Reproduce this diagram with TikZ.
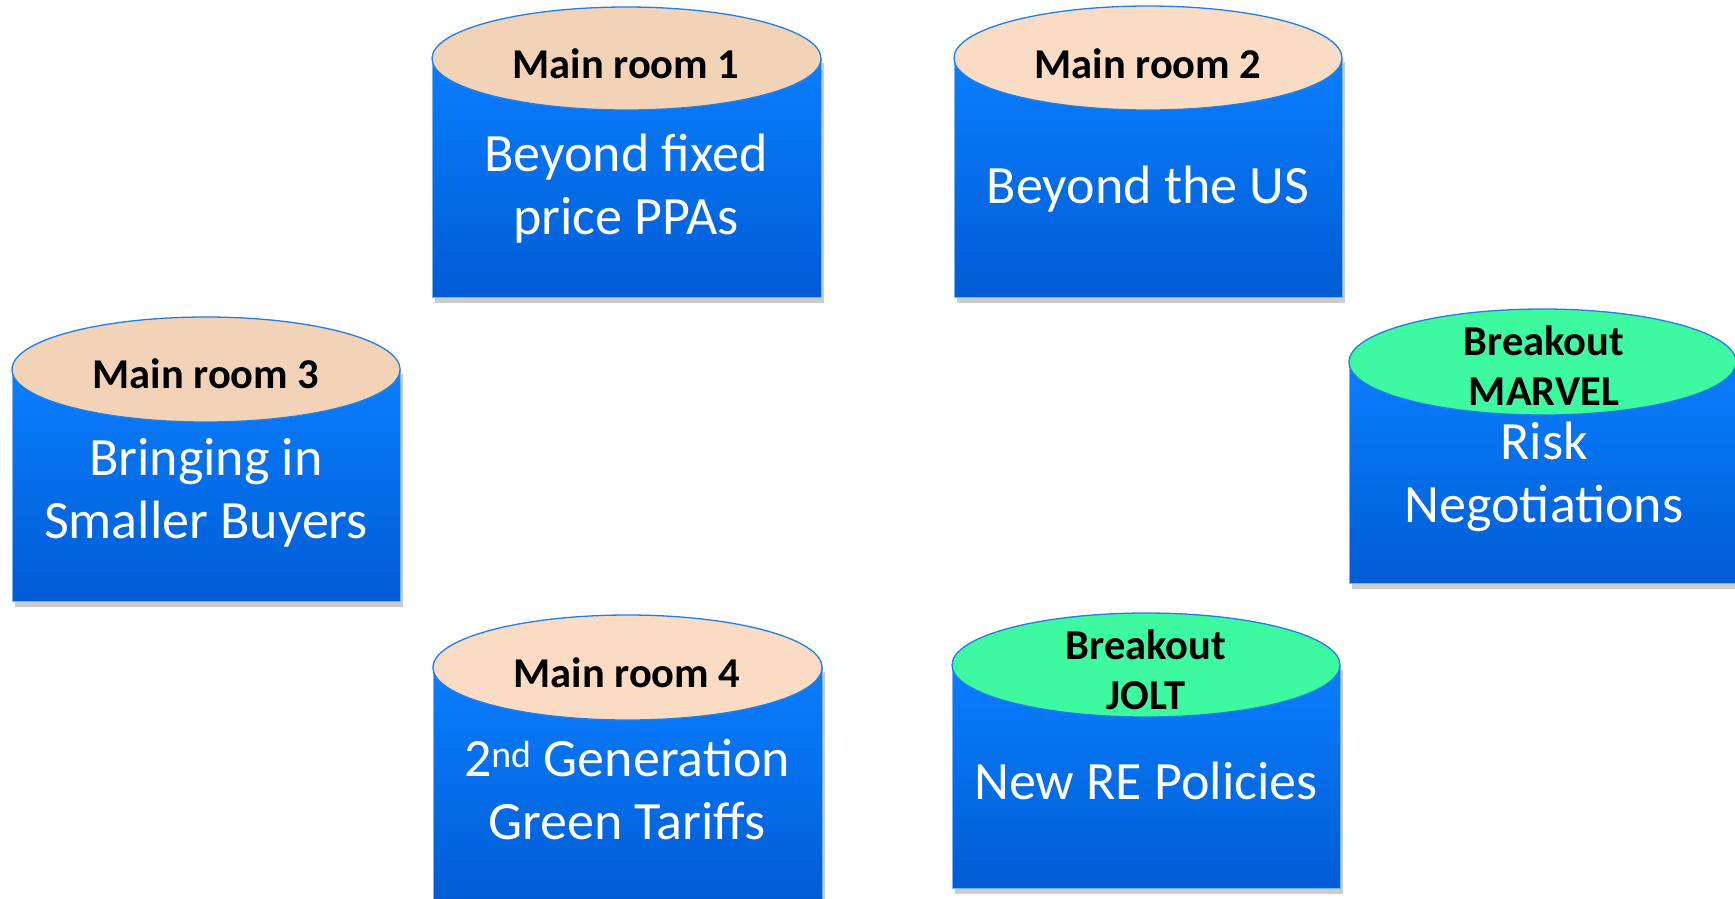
\documentclass[tikz,border=0pt]{standalone}
\usepackage{fontspec}
\setmainfont{Carlito}
\definecolor{peachA}{HTML}{F3D3B7}
\definecolor{peachB}{HTML}{F9DCC3}
\definecolor{mint}{HTML}{3DF9A0}
\definecolor{bodytop}{HTML}{0A7EFF}
\definecolor{bodybot}{HTML}{005CD4}
\definecolor{rim}{HTML}{1E7FE8}
\tikzset{
  body/.style={top color=bodytop, bottom color=bodybot, draw=rim!60!white, line width=1pt},
  lid/.style={draw=rim, line width=1.3pt},
  shadowbox/.style={fill=black, opacity=0.2},
  title/.style={font=\bfseries\fontsize{42.5}{50}\selectfont, align=center, inner sep=0pt, text=black},
  caption/.style={font=\fontsize{54}{63}\selectfont, align=center, inner sep=0pt, text=white},
}
% #1 left, #2 right, #3 lid top, #4 lid bottom, #5 body bottom, #6 lid fill
\newcommand\roomcyl[6]{%
  \fill[shadowbox] (#1+3,{(#3+#4)/2+4}) rectangle (#2+3,#5+6);
  \shade[body] (#1,{(#3+#4)/2}) rectangle (#2,#5);
  \filldraw[lid, fill=#6] ({(#1+#2)/2},{(#3+#4)/2}) ellipse [x radius={(#2-#1)/2*1pt}, y radius={(#4-#3)/2*1pt}];
}
\begin{document}
\begin{tikzpicture}[x=1pt,y=-1pt]
\useasboundingbox (0,0) rectangle (1735,898);
\roomcyl{432}{821}{7}{110}{297}{peachA}
\roomcyl{954}{1342}{6}{110}{297}{peachB}
\roomcyl{12}{400}{317}{422}{601}{peachA}
\roomcyl{1349}{1736}{309}{415}{583}{mint}
\roomcyl{433}{822}{615}{720}{905}{peachB}
\roomcyl{952}{1340}{613}{717}{888}{mint}

\node[title]   (t1) at (626,64)  {Main room 1};
\node[caption] (b1) at (626,189) {Beyond fixed\\price PPAs};
\node[title]   (t2) at (1148,64) {Main room 2};
\node[caption] (b2) at (1148,189) {Beyond the US};
\node[title]   (t3) at (206,374) {Main room 3};
\node[caption] (b3) at (206,493) {Bringing in\\Smaller Buyers};
\node[title]   (t5) at (1544,366) {Breakout\\MARVEL};
\node[caption] (b5) at (1544,477) {Risk\\Negotiations};
\node[title]   (t4) at (627,673) {Main room 4};
\node[caption] (b4) at (627,790) {2\textsuperscript{nd} Generation\\Green Tariffs};
\node[title]   (t6) at (1146,670) {Breakout\\JOLT};
\node[caption] (b6) at (1146,781) {New RE Policies};
\end{tikzpicture}
\end{document}
